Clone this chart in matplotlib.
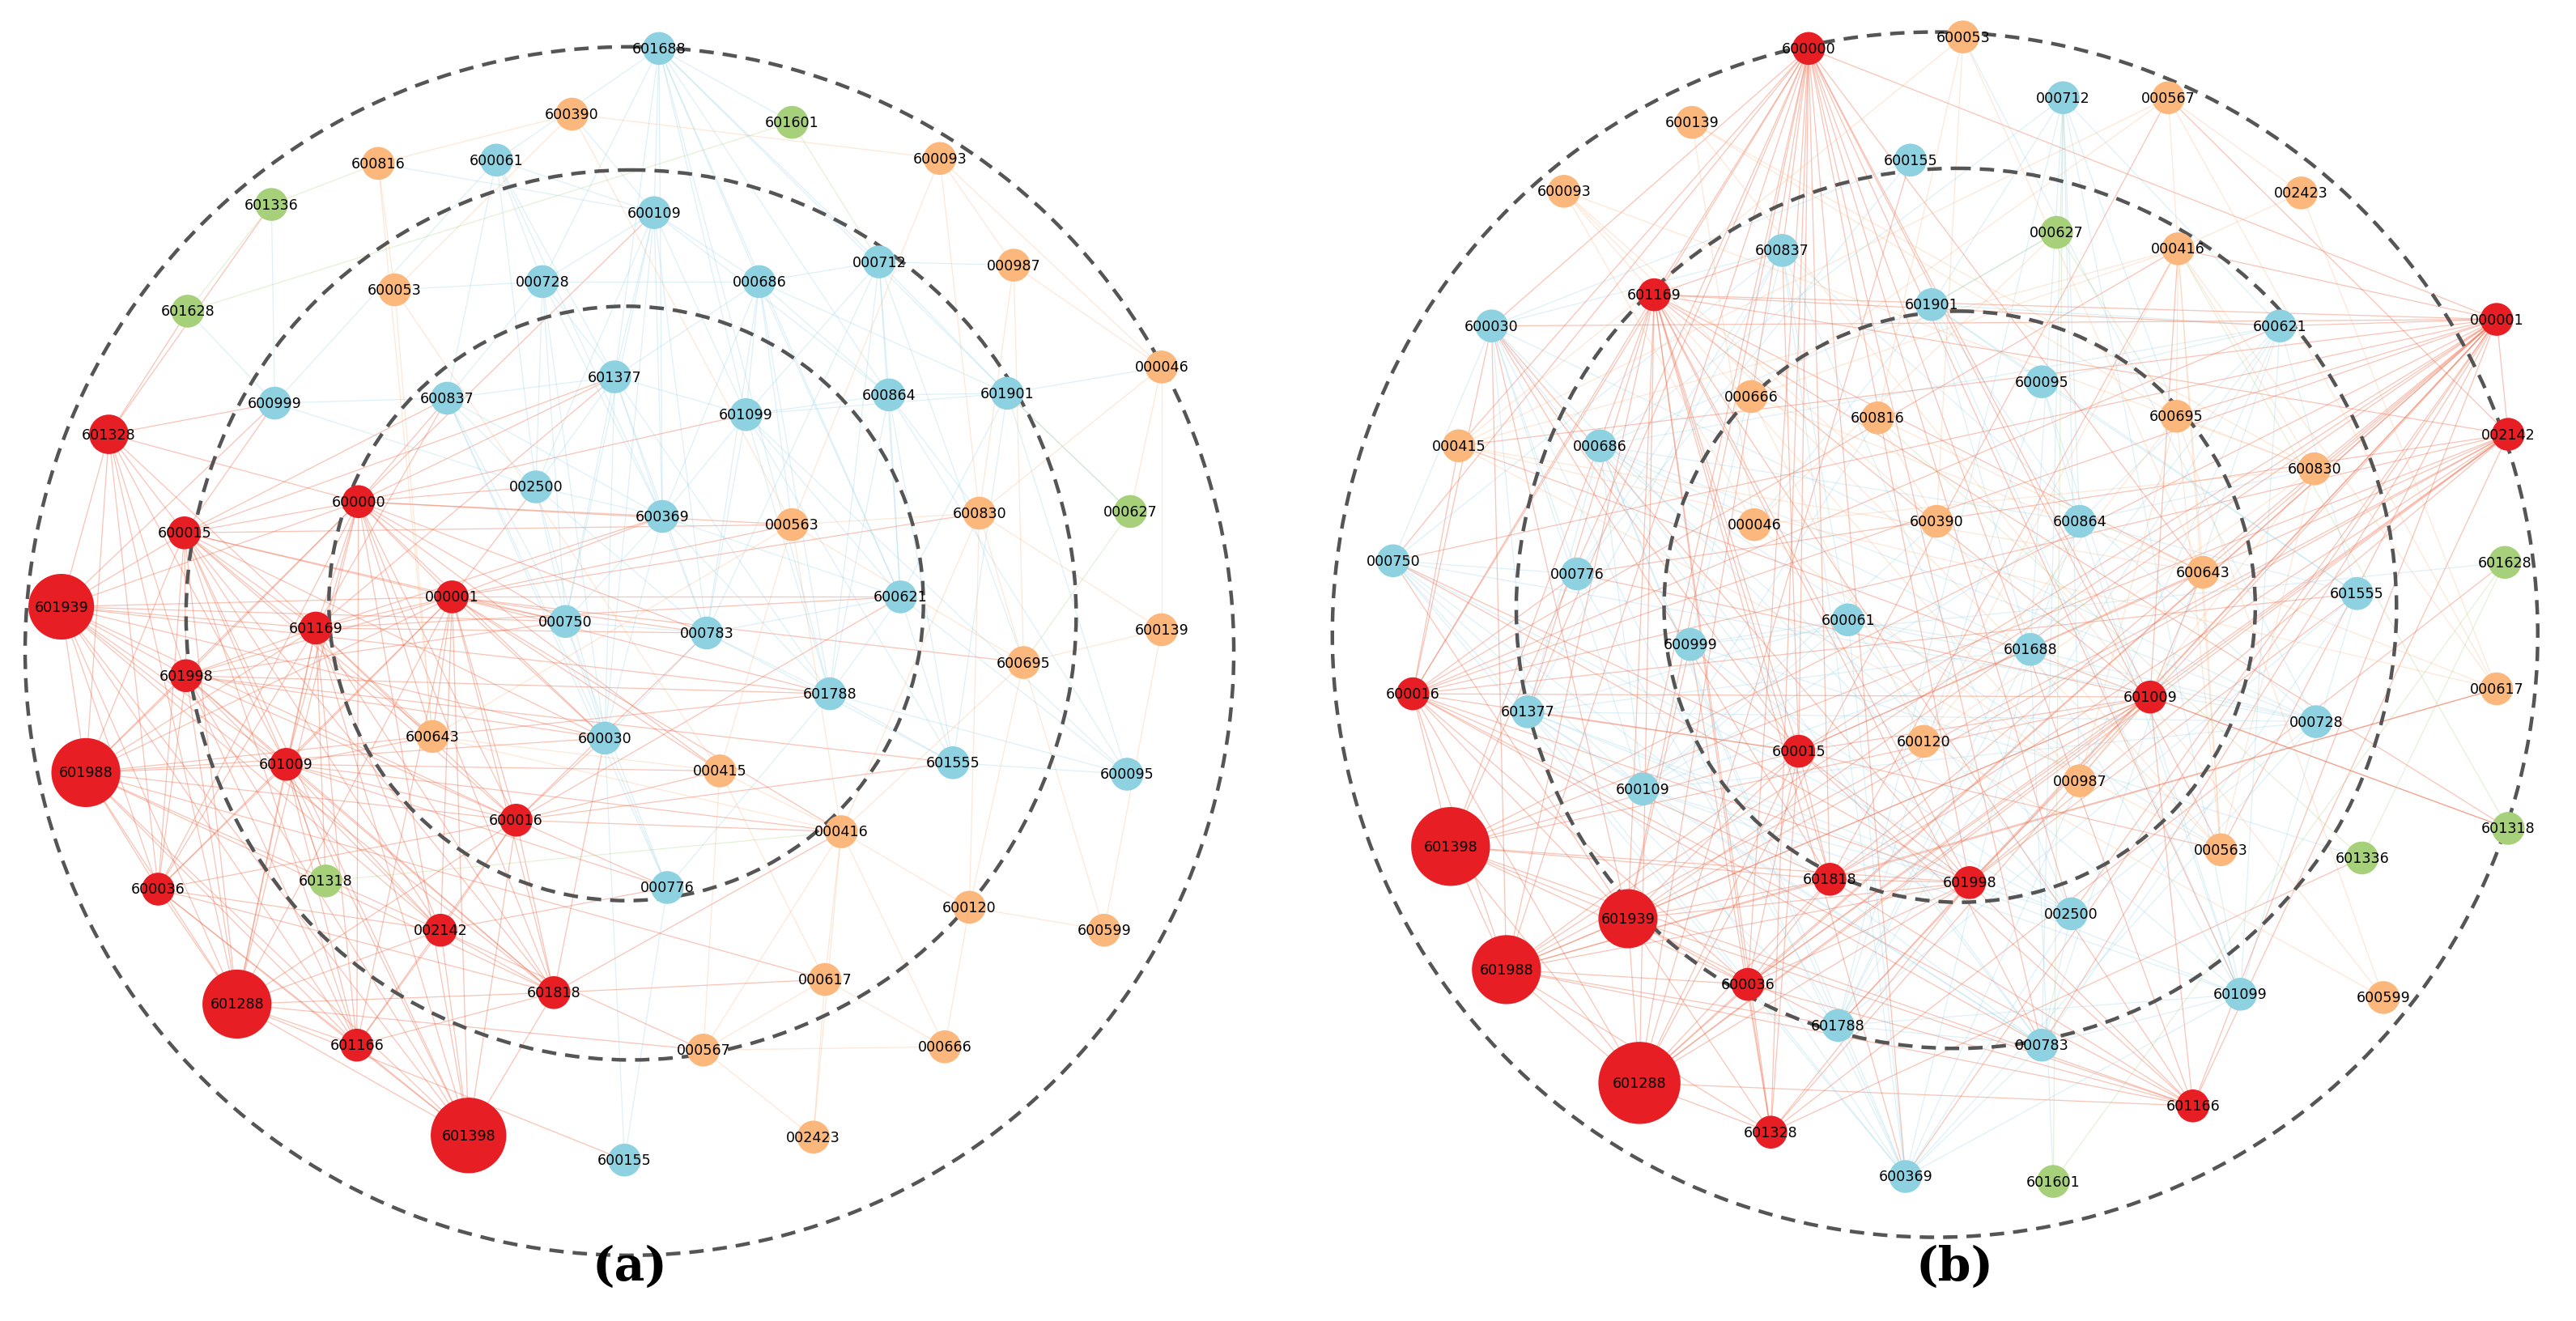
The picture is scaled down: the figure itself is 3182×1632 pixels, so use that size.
import matplotlib
matplotlib.use('Agg')
import matplotlib.pyplot as plt
from matplotlib.patches import Circle

# node groups (same network drawn in two layouts)
red = "601328 600000 600015 000001 601939 601169 601998 601009 601988 600016 600036 002142 601818 601288 601166 601398".split()
cyan = "601688 600061 600109 000712 000728 000686 601377 600999 600837 601099 600864 601901 002500 600369 000750 000783 600621 601788 600030 601555 600095 000776 600155".split()
orange = "600390 600816 600093 000987 600053 000046 000563 600830 600139 600695 600643 000415 000416 600120 600599 000617 000567 000666 002423".split()
green = "601601 601336 601628 000627 601318".split()

# node size (radius, px of the small picture)
big = {'601939': 20, '601988': 21, '601288': 21, '601398': 23, '601328': 12}
big_b = {'601398': 24, '601939': 18, '601988': 21, '601288': 25}

# panel (a) layout
pos_a = {
    '601688': (401, 30), '600390': (348, 70), '601601': (482, 75), '600816': (230, 100),
    '600061': (302, 98), '600093': (572, 97), '601336': (165, 125), '600109': (398, 130),
    '000712': (535, 160), '000987': (617, 162), '600053': (240, 177), '000728': (330, 172),
    '000686': (462, 172), '601628': (114, 190), '601377': (374, 230), '000046': (707, 224),
    '600999': (167, 246), '600837': (272, 243), '601099': (454, 253), '600864': (541, 241),
    '601901': (613, 240), '601328': (66, 265), '600000': (218, 306), '002500': (326, 297),
    '600369': (403, 315), '000563': (482, 320), '600830': (596, 313), '000627': (688, 312),
    '600015': (112, 325), '000001': (275, 364), '000750': (344, 379), '000783': (430, 386),
    '600621': (548, 364), '601939': (37, 370), '601169': (192, 383), '600139': (707, 384),
    '601998': (113, 412), '601788': (505, 423), '600695': (623, 404), '600643': (263, 449),
    '600030': (368, 450), '000415': (438, 470), '601009': (174, 466), '601988': (52, 471),
    '601555': (580, 465), '600095': (686, 472), '600016': (314, 500), '000416': (512, 507),
    '600036': (96, 542), '601318': (198, 537), '000776': (406, 541), '002142': (268, 567),
    '600120': (590, 553), '600599': (672, 567), '601818': (337, 605), '000617': (502, 597),
    '601288': (144, 612), '601166': (217, 637), '000567': (428, 640), '000666': (575, 638),
    '601398': (285, 692), '600155': (380, 707), '002423': (495, 693),
}

# panel (b) layout
pos_b = {
    '600000': (1101, 30), '600053': (1195, 23), '000712': (1256, 60), '000567': (1320, 60),
    '600139': (1030, 75), '600155': (1163, 98), '600093': (952, 117), '002423': (1401, 118),
    '000627': (1252, 142), '000416': (1326, 152), '600837': (1085, 153), '601169': (1007, 180),
    '601901': (1176, 186), '000001': (1520, 195), '600030': (908, 199), '600621': (1388, 199),
    '600095': (1243, 233), '000666': (1066, 242), '600816': (1143, 255), '600695': (1325, 254),
    '002142': (1527, 265), '000415': (888, 272), '000686': (974, 272), '600830': (1409, 286),
    '000046': (1068, 320), '600390': (1179, 318), '600864': (1266, 318), '000750': (848, 342),
    '000776': (960, 350), '600643': (1341, 349), '601555': (1435, 362), '601628': (1525, 343),
    '600061': (1125, 378), '600999': (1029, 393), '601688': (1236, 396), '601009': (1309, 425),
    '600016': (860, 423), '601377': (930, 434), '000728': (1410, 440), '000617': (1520, 420),
    '600015': (1095, 458), '600120': (1171, 452), '000987': (1266, 476), '600109': (1000, 481),
    '601398': (883, 516), '601318': (1527, 505), '000563': (1352, 518), '601336': (1438, 523),
    '601818': (1114, 536), '601998': (1199, 538), '601939': (991, 560), '002500': (1261, 557),
    '601988': (917, 591), '600036': (1064, 600), '601099': (1364, 606), '600599': (1451, 608),
    '601788': (1119, 625), '000783': (1243, 637), '601288': (998, 660), '601166': (1335, 674),
    '601328': (1078, 690), '600369': (1160, 717), '601601': (1250, 720),
}

# dashed rings: (cx, cy, r)
rings_a = [(383, 397, 368), (384, 375, 271), (381, 368, 181)]
rings_b = [(1178, 387, 367), (1191, 371, 268), (1193, 370, 180)]

adj = {
    '600000': "600015 000001 601939 601169 601998 601009 601988 600016 600036 601818 601288 601166 601398 601328 600837 002500 600369 000750 600030 600643 000563 601377 000783 600109 601099 000415",
    '600015': "000001 601939 601169 601998 601009 601988 600016 600036 002142 601818 601288 601166 601398 601328 600999 600837 601377 600030 000750 000563 600643",
    '000001': "601939 601169 601998 601009 601988 600016 600036 002142 601818 601288 601166 601398 002500 600369 000750 000783 600030 601788 600621 600830 000415 000416 600643 600695 000563",
    '601939': "601169 601998 601009 601988 600016 600036 002142 601818 601288 601166 601398 601328 600999 000750 600030 601788",
    '601169': "601998 601009 601988 600016 600036 002142 601818 601288 601166 601398 601328 601377 600369 000783 600621 600643 601318 600837",
    '601998': "601009 601988 600016 600036 002142 601818 601288 601166 601398 601328 000750 600030 601788 601555",
    '601009': "601988 600016 600036 002142 601818 601288 601166 601398 601328 600643 000415 000416 601318 000776",
    '601988': "600016 600036 002142 601818 601288 601166 601398 601328 600030 601788 000617",
    '600016': "600036 002142 601818 601288 601166 601398 600030 000415 000776 601555 000416 600621 000783",
    '600036': "002142 601818 601288 601166 601398 601328",
    '002142': "601818 601288 601166 601398 000776 000567",
    '601818': "601288 601166 601398 600030 000416 000617",
    '601288': "601166 601398 601328 000567 600155",
    '601166': "601398",
    '601328': "600999 601628 601336",
    '601688': "600061 600109 000712 000728 000686 601377 601099 600864 601901 600369 601788 600621 601601",
    '600061': "600109 000728 600999 600837 601377 002500 600369",
    '600109': "000728 000686 601377 601099 600864 002500 600369 000750 000783 600030 600816 600390",
    '000712': "000686 601099 600864 601901 600621 000783 601788 600695 000987",
    '000728': "000686 601377 600837 002500 600369 000750 600030 600053",
    '000686': "601377 601099 600864 601901 600369 000783 600621 601788 000563",
    '601377': "601099 600837 002500 600369 000750 000783 600030 601788",
    '600999': "600837 002500 601336 601628",
    '600837': "002500 600369 000750 600030 000776",
    '601099': "600864 601901 600369 000783 600621 601788 601555 600095",
    '600864': "601901 600621 601788 601555 600095 600830",
    '601901': "600621 601555 600095 000627 000046",
    '002500': "600369 000750 000783 600030",
    '600369': "000750 000783 600621 601788 600030",
    '000750': "000783 600030 000776",
    '000783': "600621 601788 600030 601555",
    '600621': "601788 601555 600095",
    '601788': "601555 600095 000776",
    '600030': "000776 600155",
    '601555': "600095",
    '000776': "600155",
    '600390': "600816 600093 600053 000563",
    '600816': "600053 600643",
    '600093': "000987 000563 600830 000046",
    '000987': "000046 600830 600695",
    '600053': "600643 000415",
    '000046': "600830 600139 000627",
    '000563': "600830 600695 000415 000416 600643",
    '600830': "600139 600695 000416 600120",
    '600139': "600695 600599",
    '600695': "000416 600120 600599",
    '600643': "000415 000416",
    '000415': "000416 000617 000567",
    '000416': "600120 000617 000567 000666 002423",
    '600120': "600599 000666",
    '000617': "000567 000666 002423",
    '000567': "002423 000666",
    '601601': "000712 601628",
    '601336': "601628 600816",
    '000627': "601901 600695",
    '601318': "601009 000416",
}

node_col = {'r': '#e81e25', 'c': '#8ed2e2', 'o': '#fcb77c', 'g': '#a6d17a'}
edge_col = {'r': '#f06a4a', 'c': '#8fd0e6', 'o': '#fbb27a', 'g': '#a6d17a'}


def group(code):
    if code in red:
        return 'r'
    if code in cyan:
        return 'c'
    if code in orange:
        return 'o'
    return 'g'


def draw_panel(ax, pos, rings, sizes):
    for a, lst in adj.items():
        for b in lst.split():
            g = group(a) if group(a) == 'r' or group(b) != 'r' else 'r'
            (x1, y1), (x2, y2) = pos[a], pos[b]
            al = 0.4 if g == 'r' else 0.3
            ax.plot([x1, x2], [y1, y2], color=edge_col[g], lw=0.45, alpha=al, zorder=1)
    for cx, cy, r in rings:
        ax.add_patch(Circle((cx, cy), r, fill=False, ls=(0, (4, 2.5)), lw=1.6,
                            ec='#555555', zorder=2))
    for code, (x, y) in pos.items():
        r = sizes.get(code, 10)
        ax.add_patch(Circle((x, y), r, color=node_col[group(code)], lw=0, zorder=3))
        ax.text(x, y, code, fontsize=6.3, ha='center', va='center', zorder=4)


fig = plt.figure(figsize=(15.91, 8.165), dpi=200)
ax = fig.add_axes([0, 0, 1, 1])
ax.set_xlim(0, 1568)
ax.set_ylim(805, 0)
ax.set_aspect('equal')
ax.axis('off')

draw_panel(ax, pos_a, rings_a, big)
draw_panel(ax, pos_b, rings_b, big_b)

for x, s in [(383, '(a)'), (1190, '(b)')]:
    ax.text(x, 772, s, fontsize=21, ha='center', va='center',
            family='DejaVu Serif', fontweight='bold')

fig.savefig('out.png', dpi=200, facecolor='white')
